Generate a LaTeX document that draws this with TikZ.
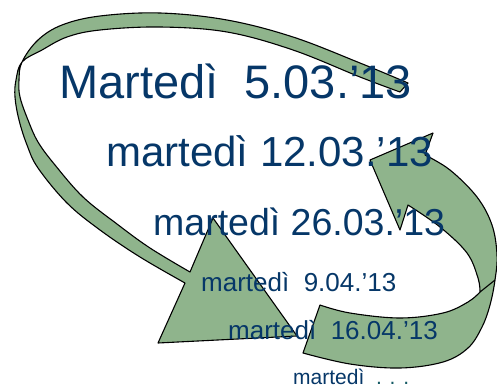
\documentclass[tikz,border=0pt]{standalone}
\usepackage{fontspec}
\setmainfont{Liberation Sans}
\definecolor{txtblue}{RGB}{6,55,104}
\definecolor{dotteal}{RGB}{20,90,100}
\definecolor{arrgreen}{RGB}{143,180,140}
\begin{document}
\begin{tikzpicture}[x=1pt,y=-1pt,
  ribbon/.style={fill=arrgreen,draw=black,line width=1.1pt,line join=round},
  datetext/.style={anchor=base west,inner sep=0pt,text=txtblue}]
\useasboundingbox (0,0) rectangle (497,388);
% left looping arrow
\draw[ribbon] (408,83) -- plot[smooth,tension=0.6] coordinates {(408,83) (360,63) (293,37) (227,20) (160,13) (100,16) (62,25) (38,40) (22,62) (19,80) (20,97) (28,120) (38,142) (55,165) (83,197) (117,224) (150,248) (190,272)}
  -- (213,218) -- (297,336) -- (158,343) -- (185,283)
  -- plot[smooth,tension=0.6] coordinates {(185,283) (140,257) (100,230) (67,203) (38,168) (27,145) (19,120) (15,97) (16,80) (22,62) (42,50) (67,37) (100,30) (160,27) (227,32) (293,50) (360,77) (400,92)} -- cycle;
% right curved arrow
\draw[ribbon] (370,160) -- (433,133) -- (425,155)
  -- plot[smooth,tension=0.6] coordinates {(425,155) (450,170) (477,197) (492,225) (497,255) (495,280) (490,305) (482,327) (468,348) (443,362) (400,368) (350,364) (303,353)}
  -- (320,305)
  -- plot[smooth,tension=0.6] coordinates {(320,305) (350,313) (400,318) (443,313) (468,302) (480,292)}
  -- plot[smooth,tension=0.6] coordinates {(480,292) (478,278) (467,253) (440,227) (408,205)}
  -- (400,230) -- cycle;
\coordinate (f1) at (480,292);
\coordinate (f2) at (495,280);
\draw[black,line width=1.1pt] (f1) -- (f2);
% texts
\node[datetext,font=\fontsize{47}{50}\selectfont] (t1) at (59,98) {Martedì\ \ 5.03.’13};
\node[datetext,font=\fontsize{42}{45}\selectfont] (t2) at (106,166) {martedì 12.03.’13};
\node[datetext,font=\fontsize{37.5}{40}\selectfont] (t3) at (153,235) {martedì 26.03.’13};
\node[datetext,font=\fontsize{26}{28}\selectfont] (t4) at (201,291) {martedì\ \ 9.04.’13};
\node[datetext,font=\fontsize{26}{28}\selectfont] (t5) at (228,339) {martedì\ \ 16.04.’13};
\node[datetext,font=\fontsize{21}{23}\selectfont] (t6) at (293,384.5) {martedì\ \ \textcolor{dotteal}{. . .}};
\end{tikzpicture}
\end{document}
